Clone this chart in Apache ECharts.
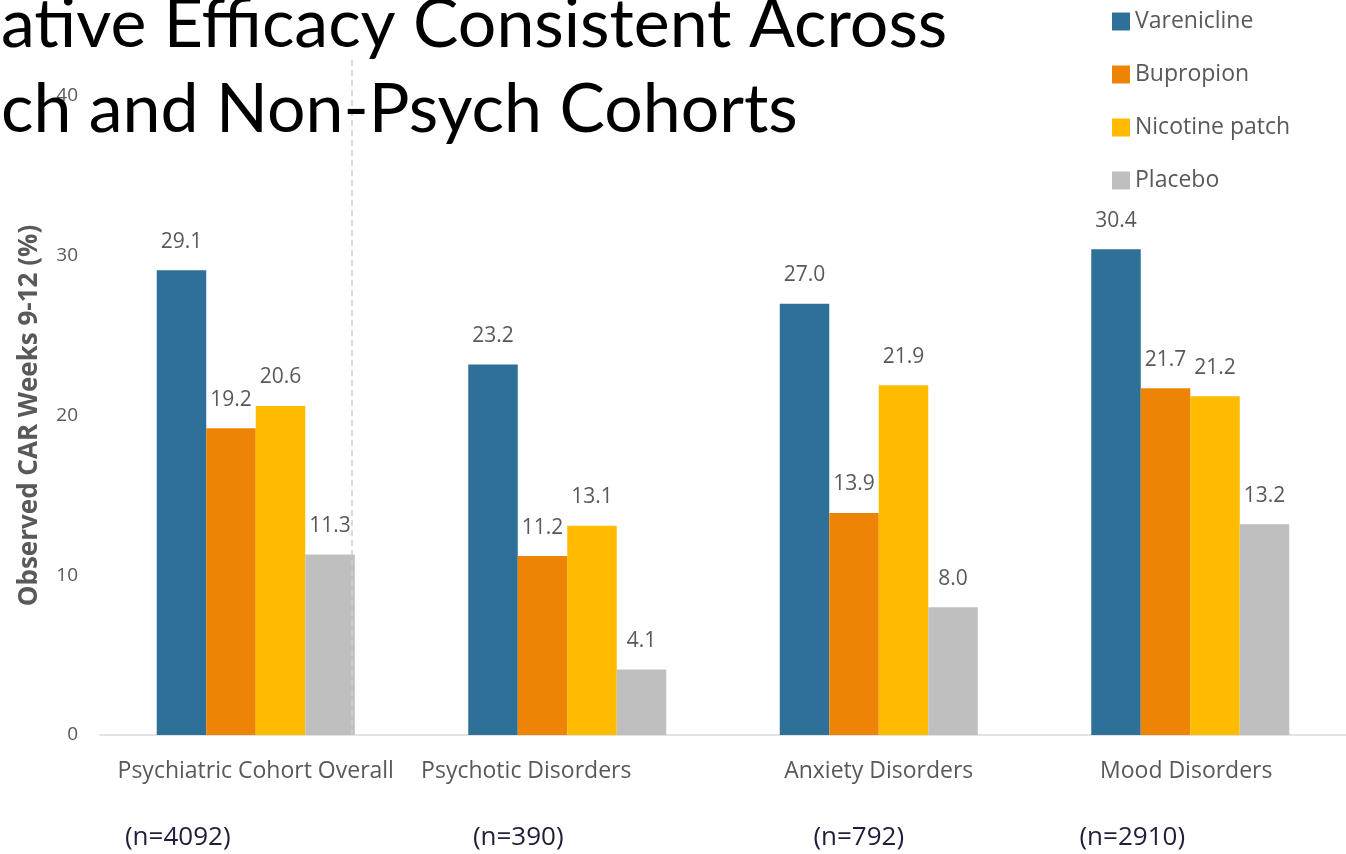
<!DOCTYPE html>
<html>
<head>
<meta charset="utf-8">
<script src="https://cdn.jsdelivr.net/npm/echarts@6/dist/echarts.min.js"></script>
<style>html,body{margin:0;padding:0;background:#fff;}#c{width:1346px;height:854px;}</style>
</head>
<body>
<div id="c"></div>
<script>
const titleLines = ['ative Efficacy Consistent Across', 'ch and Non-Psych Cohorts'];
const categories = ['Psychiatric Cohort Overall', 'Psychotic Disorders', 'Anxiety Disorders', 'Mood Disorders'];
const sampleSizes = ['(n=4092)', '(n=390)', '(n=792)', '(n=2910)'];
const seriesNames = ['Varenicline', 'Bupropion', 'Nicotine patch', 'Placebo'];
const varenicline = [29.1, 23.2, 27.0, 30.4];
const bupropion = [19.2, 11.2, 13.9, 21.7];
const nicotinePatch = [20.6, 13.1, 21.9, 21.2];
const placebo = [11.3, 4.1, 8.0, 13.2];
const yTicks = [0, 10, 20, 30, 40];
const yAxisTitle = 'Observed CAR Weeks 9-12 (%)';

const colors = ['#2E7097', '#EE8406', '#FFBB00', '#BFBFBF'];
const seriesData = [varenicline, bupropion, nicotinePatch, placebo];
// horizontal shifts of labels (pixels, negative = left) to mimic reference placement
const catShift = [0, -41, 0, -4];
const nShift = [-78, -49, -20, -58];

const rich = {};
categories.forEach((c, i) => {
  const s = catShift[i];
  rich['c' + i] = {
    fontFamily: 'Open Sans', fontSize: 23, color: '#595959',
    padding: [0, s < 0 ? -2 * s : 0, 0, s > 0 ? 2 * s : 0], lineHeight: 26
  };
  const n = nShift[i];
  rich['n' + i] = {
    fontFamily: 'Open Sans', fontSize: 26, color: '#1f1f3a',
    padding: [80, n < 0 ? -2 * n : 0, 0, n > 0 ? 2 * n : 0], lineHeight: 28
  };
});

const chart = echarts.init(document.getElementById('c'));
chart.setOption({
  backgroundColor: '#ffffff',
  animation: false,
  title: {
    text: titleLines.join('\n'),
    left: -4, top: -22,
    textStyle: { fontFamily: 'Lato', fontWeight: 'normal', fontSize: 68, color: '#000', lineHeight: 85 },
    z: 10
  },
  legend: {
    data: seriesNames,
    orient: 'vertical',
    left: 1107, top: 5,
    icon: 'rect', itemWidth: 18, itemHeight: 18, itemGap: 30,
    textStyle: { fontFamily: 'Open Sans', fontSize: 23, color: '#595959' }
  },
  grid: { left: 100, right: -2, top: 96, bottom: 119, containLabel: false },
  xAxis: {
    type: 'category',
    data: categories,
    axisLine: { lineStyle: { color: '#D9D9D9', width: 1.5 } },
    axisTick: { show: false },
    axisLabel: {
      interval: 0, margin: 23,
      formatter: (v, i) => '{c' + i + '|' + v + '}\n{n' + i + '|' + sampleSizes[i] + '}',
      rich: rich
    }
  },
  yAxis: {
    type: 'value', min: yTicks[0], max: yTicks[yTicks.length - 1], interval: 10,
    name: yAxisTitle, nameLocation: 'middle', nameGap: 57,
    nameTextStyle: { fontFamily: 'Open Sans', fontWeight: 'bold', fontSize: 26, color: '#595959' },
    axisLine: { show: false }, axisTick: { show: false }, splitLine: { show: false },
    axisLabel: { fontFamily: 'Open Sans', fontSize: 19, color: '#595959', margin: 22 }
  },
  series: seriesNames.map((name, i) => ({
    name: name, type: 'bar', data: seriesData[i],
    barWidth: 49.5, barGap: '0%',
    itemStyle: { color: colors[i] },
    label: {
      show: true, position: 'top', distance: 18,
      formatter: p => p.value.toFixed(1),
      fontFamily: 'Open Sans', fontSize: 21, color: '#595959'
    }
  })),
  graphic: [{
    type: 'line', z: 5,
    shape: { x1: 352, y1: 60, x2: 352, y2: 735 },
    style: { stroke: '#D0D0D0', lineWidth: 1.5, lineDash: [6, 4] }
  }]
});
</script>
</body>
</html>
